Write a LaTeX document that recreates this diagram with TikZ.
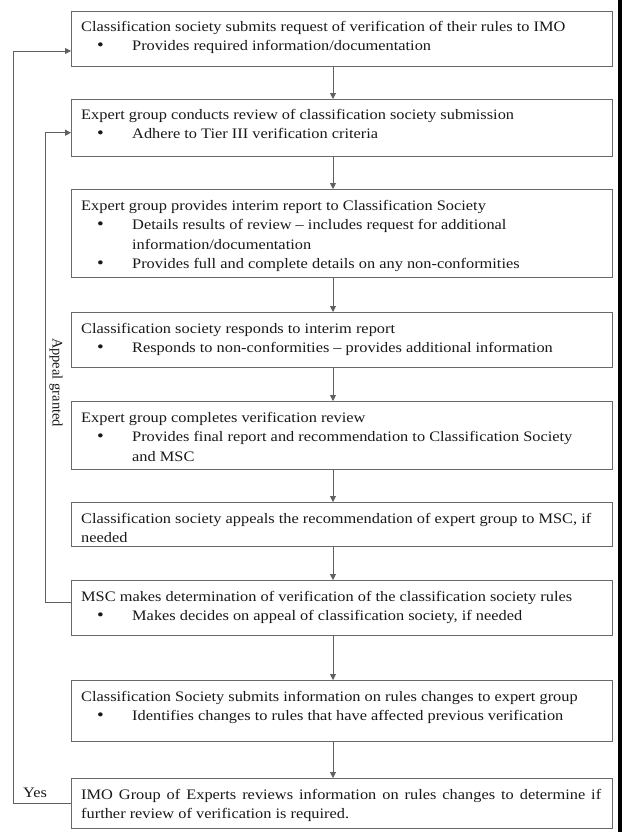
\documentclass[tikz,border=0pt]{standalone}
\usepackage{fontspec}
\setmainfont{Liberation Serif}
\newfontfamily\widefont[FakeStretch=1.128,Ligatures=TeX]{Liberation Serif}
\usetikzlibrary{arrows.meta}
\definecolor{boxline}{RGB}{105,105,105}
\definecolor{conn}{RGB}{95,95,100}
\definecolor{txtc}{RGB}{25,25,25}
\newcommand{\bl}[1]{\makebox[51bp][l]{\hspace{16bp}{\fontsize{17bp}{19.5bp}\selectfont\textbullet}}#1}
\newcommand{\cont}[1]{\hspace*{51bp}#1}
\newcommand{\boxtext}[1]{\vtop{\hsize=535bp\parindent=0pt\baselineskip=19.5bp\raggedright #1}}
\tikzset{
  box/.style={draw=boxline, line width=1.1bp, minimum width=541bp, anchor=north west, inner sep=0pt, fill=white},
  txt/.style={anchor=base west, inner sep=0pt, text=txtc, font=\widefont\fontsize{14.5bp}{19.5bp}\selectfont},
  rtxt/.style={inner sep=0pt, text=txtc, font=\rmfamily\fontsize{14.5bp}{19.5bp}\selectfont},
  arr/.style={draw=conn, line width=0.9bp, -{Triangle[length=6bp,width=6bp]}},
  loop/.style={draw=conn, line width=0.9bp}
}
\begin{document}
\begin{tikzpicture}[x=1bp,y=-1bp]
\useasboundingbox (0,0) rectangle (622,832);
\fill[white] (0,0) rectangle (622,832);
\fill[black] (618,0) rectangle (622,832);

\node[box, minimum height=55bp]   (b1) at (71,11)  {};
\node[box, minimum height=56.5bp] (b2) at (71,99)  {};
\node[box, minimum height=88bp]   (b3) at (71,189) {};
\node[box, minimum height=55bp]   (b4) at (71,312) {};
\node[box, minimum height=68bp]   (b5) at (71,401) {};
\node[box, minimum height=44bp]   (b6) at (71,502) {};
\node[box, minimum height=55bp]   (b7) at (71,580) {};
\node[box, minimum height=61bp]   (b8) at (71,680) {};
\node[box, minimum height=50bp]   (b9) at (71,778) {};

\node[txt] (t1) at (81,31) {\boxtext{Classification society submits request of verification of their rules to IMO\\
\bl{Provides required information/documentation}}};
\node[txt] (t2) at (81,119) {\boxtext{Expert group conducts review of classification society submission\\
\bl{Adhere to Tier III verification criteria}}};
\node[txt] (t3) at (81,210) {\boxtext{Expert group provides interim report to Classification Society\\
\bl{Details results of review \textendash{} includes request for additional}\\
\cont{information/documentation}\\
\bl{Provides full and complete details on any non-conformities}}};
\node[txt] (t4) at (81,333) {\boxtext{Classification society responds to interim report\\
\bl{Responds to non-conformities \textendash{} provides additional information}}};
\node[txt] (t5) at (81,422) {\boxtext{Expert group completes verification review\\
\bl{Provides final report and recommendation to Classification Society}\\
\cont{and MSC}}};
\node[txt] (t6) at (81,523) {\boxtext{\makebox[510bp][s]{Classification society appeals the recommendation of expert group to MSC, if}\\
needed}};
\node[txt] (t7) at (81,601) {\boxtext{MSC makes determination of verification of the classification society rules\\
\bl{Makes decides on appeal of classification society, if needed}}};
\node[txt] (t8) at (81,701) {\boxtext{Classification Society submits information on rules changes to expert group\\
\bl{Identifies changes to rules that have affected previous verification}}};
\node[txt] (t9) at (81,799) {\boxtext{\makebox[520bp][s]{IMO Group of Experts reviews information on rules changes to determine if}\\
further review of verification is required.}};

\draw[arr] ([xshift=262bp]b1.south west) -- ([xshift=262bp]b2.north west);
\draw[arr] ([xshift=262bp]b2.south west) -- ([xshift=262bp]b3.north west);
\draw[arr] ([xshift=262bp]b3.south west) -- ([xshift=262bp]b4.north west);
\draw[arr] ([xshift=262bp]b4.south west) -- ([xshift=262bp]b5.north west);
\draw[arr] ([xshift=262bp]b5.south west) -- ([xshift=262bp]b6.north west);
\draw[arr] ([xshift=262bp]b6.south west) -- ([xshift=262bp]b7.north west);
\draw[arr] ([xshift=262bp]b7.south west) -- ([xshift=262bp]b8.north west);
\draw[arr] ([xshift=262bp]b8.south west) -- ([xshift=262bp]b9.north west);

\draw[arr] (b9.west) -- ++(-57.7,0) coordinate (yc) |- ([yshift=-40bp]b1.north west);
\draw[arr] ([yshift=-22bp]b7.north west) -- ++(-25.3,0) coordinate (ac) |- ([yshift=-33.7bp]b2.north west);

\node[txt, anchor=base west] (yes) at (23,797) {Yes};
\node[rtxt, anchor=center, rotate=-90] (appeal) at (56,382.5) {Appeal granted};
\end{tikzpicture}
\end{document}
